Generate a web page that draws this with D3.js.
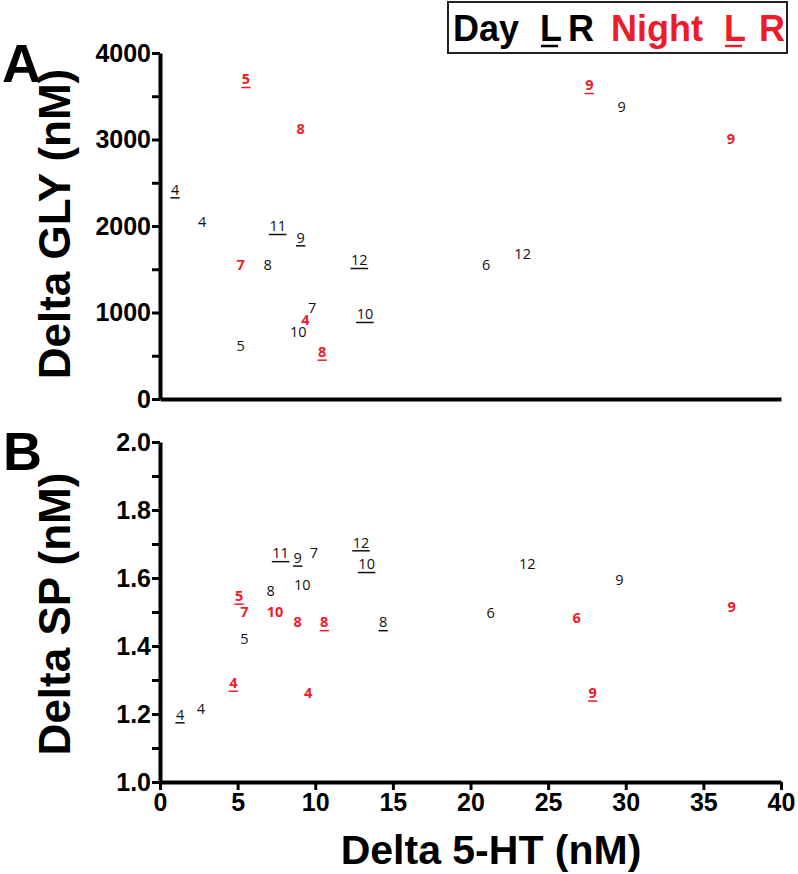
<!DOCTYPE html>
<html><head><meta charset="utf-8">
<script src="https://cdnjs.cloudflare.com/ajax/libs/d3/7.8.5/d3.min.js"></script>
<style>
html,body{margin:0;padding:0;background:#fff;}
svg{display:block;}
</style></head>
<body>
<svg id="chart" width="798" height="874"></svg>
<script>
// ---- data ----
const xTicks = [0,5,10,15,20,25,30,35,40];
const yTicksA = [0,1000,2000,3000,4000];
const yMinorA = [500,1500,2500,3500];
const yTicksB = [1.0,1.2,1.4,1.6,1.8,2.0];
const yMinorB = [1.1,1.3,1.5,1.7,1.9];

// Panel A: Delta GLY vs Delta 5-HT
const dayA_label = ["4","4","11","9","8","12","7","10","10","5","9","6","12"];
const dayA_x     = [0.97,2.72,7.58,9.06,6.94,12.84,9.8,13.2,8.91,5.2,29.74,21.0,23.36];
const dayA_y     = [2424,2050,2000,1869,1549,1607,1055,983,778,613,3380,1549,1676];
const dayA_left  = [1,0,1,1,0,1,0,1,0,0,0,0,0];

const nightA_label = ["5","8","7","4","8","9","9"];
const nightA_x     = [5.54,9.06,5.2,9.37,10.45,27.65,36.78];
const nightA_y     = [3699,3129,1557,920,547,3630,3006];
const nightA_left  = [1,0,0,0,1,1,0];

// Panel B: Delta SP vs Delta 5-HT
const dayB_label = ["11","9","7","12","10","8","10","8","5","4","4","12","9","6"];
const dayB_x     = [7.77,8.87,9.92,12.95,13.31,7.13,9.17,14.38,5.43,1.29,2.64,23.66,29.59,21.3];
const dayB_y     = [1.673,1.660,1.673,1.705,1.641,1.562,1.579,1.470,1.420,1.199,1.215,1.641,1.594,1.499];
const dayB_left  = [1,1,0,1,1,0,0,1,0,1,0,0,0,0];

const nightB_label = ["5","7","10","8","8","4","4","6","9","9"];
const nightB_x     = [5.09,5.43,7.41,8.87,10.58,4.72,9.55,26.84,36.82,27.87];
const nightB_y     = [1.548,1.501,1.501,1.470,1.470,1.292,1.263,1.483,1.516,1.263];
const nightB_left  = [1,0,0,0,1,1,0,0,0,1];

// ---- drawing ----
const RED = "#ec1c2a";
const svg = d3.select("#chart");
const AX = "'Liberation Sans', Arial, Helvetica, sans-serif";
const LF = "'Open Sans', 'Noto Sans', sans-serif";

const x = d3.scaleLinear().domain([0,40]).range([160,781]);
const yA = d3.scaleLinear().domain([0,4000]).range([399,53]);
const yB = d3.scaleLinear().domain([1.0,2.0]).range([782,442]);

function styleAxis(g){
  g.selectAll(".domain").attr("stroke","#000").attr("stroke-width",4);
  g.selectAll(".tick line").attr("stroke","#000").attr("stroke-width",3);
  g.selectAll(".tick text").attr("font-family",AX).attr("font-weight","bold")
    .attr("font-size",25).attr("fill","#000");
}

// Panel A axes
const gyA = svg.append("g").attr("transform","translate(160,0)")
  .call(d3.axisLeft(yA).tickValues(yTicksA).tickFormat(d3.format("d")).tickSize(8).tickPadding(1).tickSizeOuter(0));
styleAxis(gyA);
svg.append("g").attr("transform","translate(160,0)")
  .call(d3.axisLeft(yA).tickValues(yMinorA).tickFormat("").tickSize(8).tickSizeOuter(0))
  .call(g=>{g.select(".domain").remove(); g.selectAll(".tick line").attr("stroke","#000").attr("stroke-width",3);});
const gxA = svg.append("g").attr("transform","translate(0,399)")
  .call(d3.axisBottom(x).tickValues([]).tickSizeOuter(0));
styleAxis(gxA);

// Panel B axes
const gyB = svg.append("g").attr("transform","translate(160,0)")
  .call(d3.axisLeft(yB).tickValues(yTicksB).tickFormat(d3.format(".1f")).tickSize(8).tickPadding(1).tickSizeOuter(0));
styleAxis(gyB);
svg.append("g").attr("transform","translate(160,0)")
  .call(d3.axisLeft(yB).tickValues(yMinorB).tickFormat("").tickSize(8).tickSizeOuter(0))
  .call(g=>{g.select(".domain").remove(); g.selectAll(".tick line").attr("stroke","#000").attr("stroke-width",3);});
const gxB = svg.append("g").attr("transform","translate(0,782)")
  .call(d3.axisBottom(x).tickValues(xTicks).tickFormat(d3.format("d")).tickSize(8).tickPadding(3).tickSizeOuter(0));
styleAxis(gxB);

// Axis titles
svg.append("text").attr("transform","translate(70,224) rotate(-90)")
  .attr("text-anchor","middle").attr("font-family",AX).attr("font-weight","bold")
  .attr("font-size",44).text("Delta GLY (nM)");
svg.append("text").attr("transform","translate(70,614) rotate(-90)")
  .attr("text-anchor","middle").attr("font-family",AX).attr("font-weight","bold")
  .attr("font-size",44).text("Delta SP (nM)");
svg.append("text").attr("x",491).attr("y",864)
  .attr("text-anchor","middle").attr("font-family",AX).attr("font-weight","bold")
  .attr("font-size",41).text("Delta 5-HT (nM)");

// Panel letters
svg.append("text").attr("x",2).attr("y",82).attr("font-family",AX).attr("font-weight","bold")
  .attr("font-size",54).text("A");
svg.append("text").attr("x",3).attr("y",470).attr("font-family",AX).attr("font-weight","bold")
  .attr("font-size",54).text("B");

// Point labels
function drawLabels(labels, xs, ys, lefts, yScale, color, weight){
  const data = labels.map((l,i)=>({l, x:xs[i], y:ys[i], left:lefts[i]}));
  const g = svg.append("g");
  const items = g.selectAll("g").data(data).join("g")
    .attr("transform", d=>`translate(${x(d.x)},${yScale(d.y)})`);
  items.append("text")
    .attr("text-anchor","middle").attr("dy","0.36em")
    .attr("font-family",LF).attr("font-size",14.5).attr("font-weight",weight)
    .attr("fill",color).text(d=>d.l);
  items.each(function(d){
    if(!d.left) return;
    const t = d3.select(this).select("text").node();
    const w = t.getComputedTextLength();
    d3.select(this).append("line")
      .attr("x1",-w/2-0.5).attr("x2",w/2+0.5).attr("y1",8.5).attr("y2",8.5)
      .attr("stroke",color).attr("stroke-width",1.5);
  });
}
drawLabels(dayA_label, dayA_x, dayA_y, dayA_left, yA, "#111", 500);
drawLabels(nightA_label, nightA_x, nightA_y, nightA_left, yA, RED, 700);
drawLabels(dayB_label, dayB_x, dayB_y, dayB_left, yB, "#111", 500);
drawLabels(nightB_label, nightB_x, nightB_y, nightB_left, yB, RED, 700);

// Legend
const lg = svg.append("g");
lg.append("rect").attr("x",448).attr("y",2).attr("width",339).attr("height",51)
  .attr("fill","#fff").attr("stroke","#222").attr("stroke-width",2);
const legendItems = [
  {t:"Day", x:453, c:"#000", u:false},
  {t:"L", x:540, c:"#000", u:true},
  {t:"R", x:568, c:"#000", u:false},
  {t:"Night", x:611, c:RED, u:false},
  {t:"L", x:724, c:RED, u:true},
  {t:"R", x:759, c:RED, u:false}
];
legendItems.forEach(it=>{
  const t = lg.append("text").attr("x",it.x).attr("y",41)
    .attr("font-family",AX).attr("font-weight","bold").attr("font-size",36)
    .attr("fill",it.c).text(it.t);
  if(it.u){
    const w = t.node().getComputedTextLength();
    lg.append("line").attr("x1",it.x+1).attr("x2",it.x+w-4).attr("y1",46).attr("y2",46)
      .attr("stroke",it.c).attr("stroke-width",2.5);
  }
});
</script>
</body></html>
